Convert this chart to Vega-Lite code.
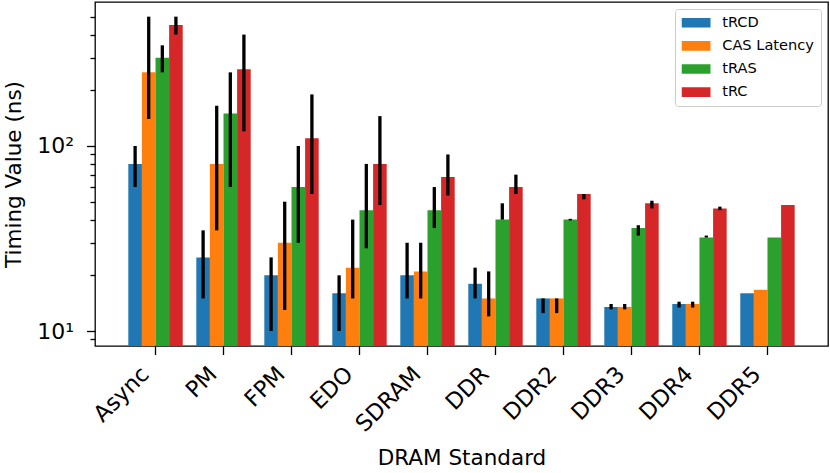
{
  "$schema": "https://vega.github.io/schema/vega-lite/v6.json",
  "width": 733,
  "height": 344,
  "autosize": "none",
  "padding": {"left": 95, "top": 2, "right": 2, "bottom": 127},
  "config": {
    "font": "DejaVu Sans",
    "view": {"stroke": "black", "strokeWidth": 1.3},
    "axis": {"grid": false, "domain": false, "tickColor": "black", "tickWidth": 1.3, "labelColor": "black", "titleColor": "black", "titleFontWeight": "normal"}
  },
  "data": {
    "values": [
      {"std": "Async", "metric": "tRCD", "value": 80, "lo": 60, "hi": 100},
      {"std": "Async", "metric": "CAS Latency", "value": 250, "lo": 140, "hi": 500},
      {"std": "Async", "metric": "tRAS", "value": 300, "lo": 250, "hi": 350},
      {"std": "Async", "metric": "tRC", "value": 450, "lo": 400, "hi": 500},
      {"std": "PM", "metric": "tRCD", "value": 25, "lo": 15, "hi": 35},
      {"std": "PM", "metric": "CAS Latency", "value": 80, "lo": 35, "hi": 165},
      {"std": "PM", "metric": "tRAS", "value": 150, "lo": 60, "hi": 250},
      {"std": "PM", "metric": "tRC", "value": 260, "lo": 120, "hi": 400},
      {"std": "FPM", "metric": "tRCD", "value": 20, "lo": 10, "hi": 25},
      {"std": "FPM", "metric": "CAS Latency", "value": 30, "lo": 13, "hi": 50},
      {"std": "FPM", "metric": "tRAS", "value": 60, "lo": 30, "hi": 100},
      {"std": "FPM", "metric": "tRC", "value": 110, "lo": 55, "hi": 190},
      {"std": "EDO", "metric": "tRCD", "value": 16, "lo": 10, "hi": 20},
      {"std": "EDO", "metric": "CAS Latency", "value": 22, "lo": 15, "hi": 40},
      {"std": "EDO", "metric": "tRAS", "value": 45, "lo": 28, "hi": 80},
      {"std": "EDO", "metric": "tRC", "value": 80, "lo": 48, "hi": 145},
      {"std": "SDRAM", "metric": "tRCD", "value": 20, "lo": 15, "hi": 30},
      {"std": "SDRAM", "metric": "CAS Latency", "value": 21, "lo": 15, "hi": 30},
      {"std": "SDRAM", "metric": "tRAS", "value": 45, "lo": 36, "hi": 60},
      {"std": "SDRAM", "metric": "tRC", "value": 68, "lo": 54, "hi": 90},
      {"std": "DDR", "metric": "tRCD", "value": 18, "lo": 15, "hi": 22},
      {"std": "DDR", "metric": "CAS Latency", "value": 15, "lo": 12, "hi": 21},
      {"std": "DDR", "metric": "tRAS", "value": 40, "lo": 40, "hi": 49},
      {"std": "DDR", "metric": "tRC", "value": 60, "lo": 55, "hi": 70},
      {"std": "DDR2", "metric": "tRCD", "value": 15, "lo": 12.5, "hi": 15},
      {"std": "DDR2", "metric": "CAS Latency", "value": 15, "lo": 12.5, "hi": 15},
      {"std": "DDR2", "metric": "tRAS", "value": 40, "lo": 39.6, "hi": 40.4},
      {"std": "DDR2", "metric": "tRC", "value": 55, "lo": 51.5, "hi": 55},
      {"std": "DDR3", "metric": "tRCD", "value": 13.5, "lo": 13.1, "hi": 14},
      {"std": "DDR3", "metric": "CAS Latency", "value": 13.5, "lo": 13.1, "hi": 14},
      {"std": "DDR3", "metric": "tRAS", "value": 36, "lo": 32.8, "hi": 37.3},
      {"std": "DDR3", "metric": "tRC", "value": 49, "lo": 46, "hi": 50.6},
      {"std": "DDR4", "metric": "tRCD", "value": 14, "lo": 13.4, "hi": 14.4},
      {"std": "DDR4", "metric": "CAS Latency", "value": 14, "lo": 13.4, "hi": 14.4},
      {"std": "DDR4", "metric": "tRAS", "value": 32, "lo": 32, "hi": 32.8},
      {"std": "DDR4", "metric": "tRC", "value": 46, "lo": 45, "hi": 47},
      {"std": "DDR5", "metric": "tRCD", "value": 16, "lo": null, "hi": null},
      {"std": "DDR5", "metric": "CAS Latency", "value": 16.7, "lo": null, "hi": null},
      {"std": "DDR5", "metric": "tRAS", "value": 32, "lo": null, "hi": null},
      {"std": "DDR5", "metric": "tRC", "value": 48, "lo": null, "hi": null}
    ]
  },
  "encoding": {
    "x": {
      "field": "std", "type": "nominal",
      "sort": ["Async", "PM", "FPM", "EDO", "SDRAM", "DDR", "DDR2", "DDR3", "DDR4", "DDR5"],
      "scale": {"paddingInner": 0.2, "paddingOuter": 0.49},
      "axis": {"title": "DRAM Standard", "titleFontSize": 21.5, "titlePadding": 12, "labelAngle": -45, "labelAlign": "right", "labelBaseline": "top", "labelFontSize": 22.5, "tickSize": 8.5, "labelPadding": 8, "labelOffset": -18}
    },
    "xOffset": {"field": "metric", "type": "nominal", "sort": ["tRCD", "CAS Latency", "tRAS", "tRC"], "scale": {"paddingInner": 0, "paddingOuter": 0}}
  },
  "layer": [
    {
      "mark": {"type": "bar"},
      "encoding": {
        "y": {
          "field": "value", "type": "quantitative",
          "scale": {"type": "log", "domain": [8.3, 600], "nice": false},
          "axis": {
            "title": "Timing Value (ns)", "titleFontSize": 21.5, "titlePadding": 11,
            "values": [9, 10, 20, 30, 40, 50, 60, 70, 80, 90, 100, 200, 300, 400, 500],
            "labelExpr": "datum.value == 100 ? '10²' : datum.value == 10 ? '10¹' : ''",
            "labelFontSize": 22,
            "labelPadding": 13,
            "tickSize": {"condition": {"test": "datum.value == 10 || datum.value == 100", "value": 8.5}, "value": 5}
          }
        },
        "y2": {"datum": 8.3},
        "color": {
          "field": "metric", "type": "nominal",
          "sort": ["tRCD", "CAS Latency", "tRAS", "tRC"],
          "scale": {"domain": ["tRCD", "CAS Latency", "tRAS", "tRC"], "range": ["#1f77b4", "#ff7f0e", "#2ca02c", "#d62728"]},
          "legend": {
            "title": null, "orient": "top-right", "offset": 7,
            "symbolType": "M-1,-0.33L1,-0.33L1,0.33L-1,0.33Z", "symbolSize": 841, "symbolStrokeWidth": 0,
            "labelFontSize": 14.6, "labelOffset": 11.7, "labelColor": "black",
            "clipHeight": 14.6, "rowPadding": 7.1,
            "padding": 6.5, "strokeColor": "#cccccc", "fillColor": "rgba(255,255,255,0.8)", "cornerRadius": 3
          }
        }
      }
    },
    {
      "transform": [{"filter": "datum.lo != null"}],
      "mark": {"type": "rule", "color": "black", "strokeWidth": 3.3},
      "encoding": {
        "y": {"field": "lo", "type": "quantitative"},
        "y2": {"field": "hi"}
      }
    }
  ]
}
